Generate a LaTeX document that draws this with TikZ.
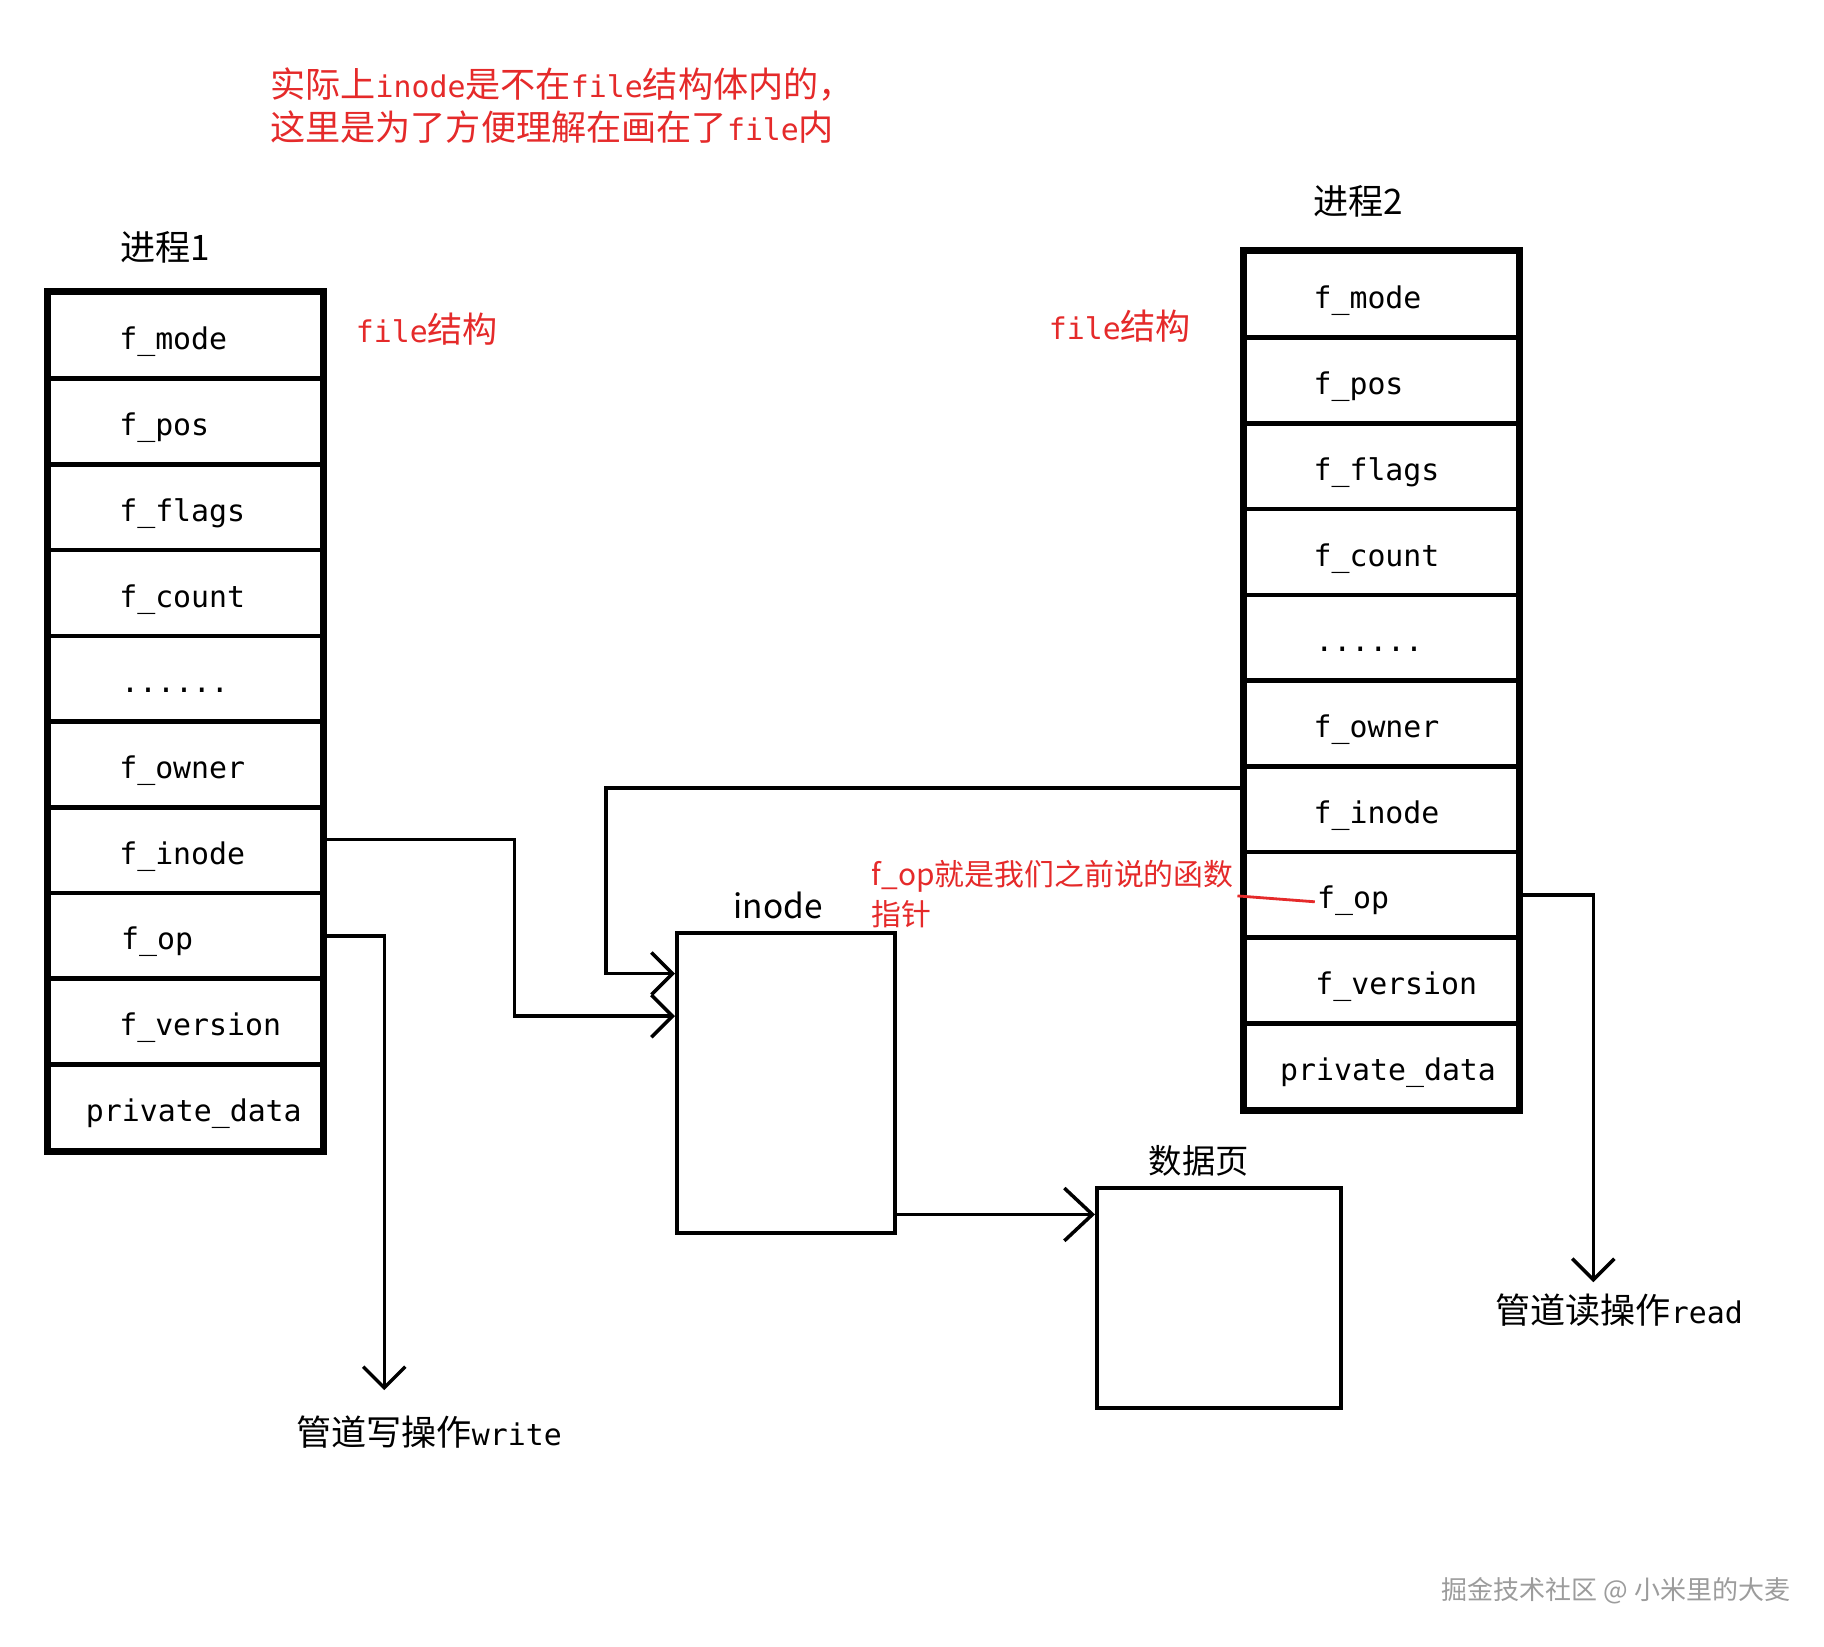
\documentclass[tikz,border=0pt]{standalone}
\usepackage{fontspec}
\newfontfamily\cjk{Noto Sans CJK SC}
\setmonofont{DejaVu Sans Mono}
\usetikzlibrary{arrows.meta,calc}
\definecolor{NoteRed}{HTML}{E52A2A}
\definecolor{MarkGray}{HTML}{9C9C9C}
\newcommand{\fieldtt}[1]{{\fontsize{17}{20}\selectfont\ttfamily #1}}
\newcommand{\fielddots}{......}
\tikzset{
  ptr/.style={-{Straight Barb[length=12pt,width=24pt]},line width=2pt},
  bigptr/.style={ptr,-{Straight Barb[length=16pt,width=30pt]}},
  field/.style={draw,line width=2.6pt,minimum width=5.46cm,minimum height=1.714cm,
                text width=5.46cm,text height=17pt,text depth=1pt,
                inner xsep=0pt,align=left,
                font=\fontsize{17}{20}\selectfont\ttfamily},
  frame/.style={draw,line width=3.4pt},
  box/.style={draw,line width=2.3pt,minimum width=4.36cm,minimum height=6cm},
  head/.style={font=\cjk\fontsize{20}{24}\selectfont},
  boxlabel/.style={font=\cjk\fontsize{19}{23}\selectfont},
  oplabel/.style={font=\cjk\fontsize{20}{24}\selectfont},
  rednote/.style={text=NoteRed,font=\cjk\fontsize{20}{24}\selectfont},
  fopnote/.style={text=NoteRed,font=\cjk\fontsize{17}{20}\selectfont,inner sep=2pt},
  noteline/.style={NoteRed,line width=1.6pt},
  watermark/.style={text=MarkGray,font=\cjk\fontsize{14.8}{18}\selectfont},
}

\begin{document}
\begin{tikzpicture}[x=0.02cm,y=-0.02cm]
    \path[fill=white] (0,0) rectangle (1824,1646);
    \useasboundingbox (0,0) rectangle (1824,1646);

    % ------------------------------------------------------------ note on top
    \node[rednote,anchor=west] (note1) at (264,84)
      {实际上\fieldtt{inode}是不在\fieldtt{file}结构体内的，};
    \node[rednote,anchor=west] (note2) at (264,127)
      {这里是为了方便理解在画在了\fieldtt{file}内};

    % ------------------------------------------------------------ process 1
    \node[head] (proc1) at (165,247) {进程1};
    \node[rednote] (struct1) at (427,329) {\fieldtt{file}结构};
    \foreach \fld/\pad [count=\i] in {f\_mode/40pt,f\_pos/40pt,f\_flags/40pt,
        f\_count/40pt,\fielddots/41pt,f\_owner/40pt,f\_inode/40pt,f\_op/41pt,
        f\_version/40pt,private\_data/21pt}
      \node[field] (p1f\i) at (185.5,{293+85.7*(\i-0.5)}) {\hspace*{\pad}\fld};
    \draw[frame] (p1f1.north west) rectangle (p1f10.south east);

    % ------------------------------------------------------------ process 2
    \node[head] (proc2) at (1358,201) {进程2};
    \node[rednote] (struct2) at (1120,326) {\fieldtt{file}结构};
    \foreach \fld/\pad [count=\i] in {f\_mode/39pt,f\_pos/39pt,f\_flags/39pt,
        f\_count/39pt,\fielddots/40pt,f\_owner/39pt,f\_inode/39pt,f\_op/41pt,
        f\_version/40pt,private\_data/20pt}
      \node[field] (p2f\i) at (1381.5,{252+85.7*(\i-0.5)}) {\hspace*{\pad}\fld};
    \draw[frame] (p2f1.north west) rectangle (p2f10.south east);

    % ------------------------------------------------------------ inode, page
    \node[box] (inode) at (786,1083) {};
    \node[boxlabel] (inodename) at (778,905) {inode};
    \node[box,minimum width=4.88cm,minimum height=4.4cm] (datapage) at (1219,1298) {};
    \node[boxlabel] (datapagename) at (1199,1161) {数据页};
    \coordinate (pagein) at ($(datapage.north west)!0.127!(datapage.south west)$);

    \node[fopnote,anchor=west] (fopnote) at (868,876) {f\_op就是我们之前说的函数};
    \node[fopnote,anchor=west] (fopnote2) at (868,914) {指针};
    \draw[noteline] (fopnote.south east) -- ([xshift=41pt,yshift=-4pt]p2f8.west);

    % ------------------------------------------------------------ pointers
    \draw[ptr] ([yshift=6pt]p1f7.east) -- ++(190,0)
      |- ($(inode.north west)!0.28!(inode.south west)$);
    \draw[ptr] ([yshift=12pt]p2f7.west) -- ++(-637,0)
      |- ($(inode.north west)!0.14!(inode.south west)$);
    \draw[bigptr] (inode.east |- pagein) -- (pagein);

    % ------------------------------------------------------------ operations
    \node[oplabel] (wrlabel) at (429,1432) {管道写操作\fieldtt{write}};
    \node[oplabel] (rdlabel) at (1619,1310) {管道读操作\fieldtt{read}};
    \draw[ptr,shorten >=11pt] (p1f8.east) -- ++(60,0) coordinate (wbend)
      -- (wbend |- wrlabel.north);
    \draw[ptr,shorten >=3pt] (p2f8.east) -- ++(73,0) coordinate (rbend)
      -- (rbend |- rdlabel.north);

    \node[watermark] (mark) at (1616,1591) {掘金技术社区 @ 小米里的大麦};
  \end{tikzpicture}
\end{document}
